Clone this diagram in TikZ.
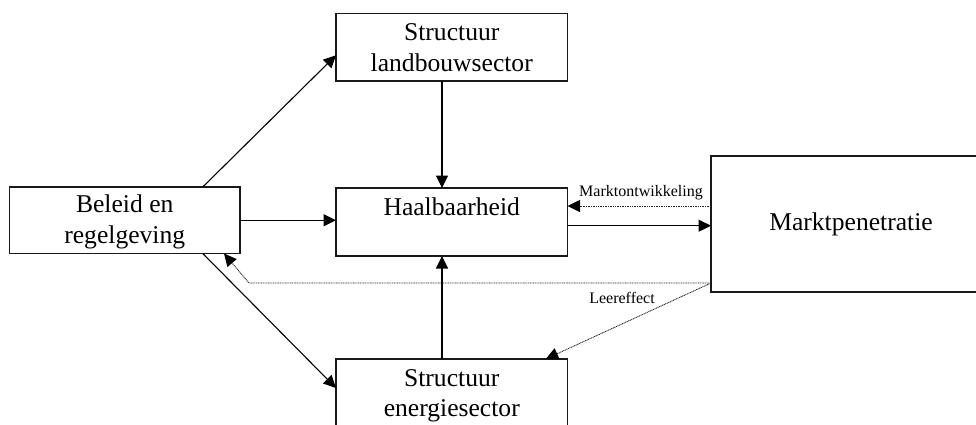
\documentclass[tikz,border=0pt]{standalone}
\usepackage{fontspec}
\setmainfont{Liberation Serif}
\usetikzlibrary{arrows.meta}
\begin{document}
\begin{tikzpicture}[x=1pt,y=-1pt,
  boxnode/.style={draw=black!90, line width=1.2pt, inner sep=0pt, outer sep=0pt},
  bigtext/.style={font=\fontsize{25.6pt}{30.5pt}\selectfont, align=center, inner sep=0pt},
  smalltext/.style={font=\fontsize{16pt}{19pt}\selectfont, inner sep=0pt},
  arr/.style={line width=1.1pt, -{Triangle[length=12.5pt,width=12pt]}},
  dotarr/.style={line width=0.9pt, draw=black!85, dash pattern=on 1pt off 0.7pt,
                 -{Triangle[length=12.5pt,width=12pt,color=black]}}]
\useasboundingbox (0,0) rectangle (976,424);
\clip (0,0) rectangle (976,424);

% boxes
\node[boxnode, minimum width=231.5pt, minimum height=67.5pt] (land) at (451.75,47.25) {};
\node[boxnode, minimum width=230.5pt, minimum height=66.5pt] (bel) at (124.75,220.25) {};
\node[boxnode, minimum width=231.5pt, minimum height=68pt] (haal) at (451.75,222) {};
\node[boxnode, minimum width=290pt, minimum height=136pt] (markt) at (856,224) {};
\node[boxnode, minimum width=231.5pt, minimum height=71pt] (en) at (451.75,394.5) {};

% texts
\node[bigtext] (landtxt) at (451.75,47.5) {Structuur\\landbouwsector};
\node[bigtext] (beltxt) at (124.75,222) {Beleid en\\regelgeving};
\node[bigtext, anchor=base] (haaltxt) at (451.75,215.5) {Haalbaarheid};
\node[bigtext] (markttxt) at (851,224) {Marktpenetratie};
\node[bigtext] (entxt) at (451.75,396) {Structuur\\energiesector};
\node[smalltext, anchor=base] (mo) at (641,196) {Marktontwikkeling};
\node[smalltext, anchor=base] (le) at (622,303) {Leereffect};

% solid arrows
\draw[arr] ([xshift=78pt]bel.north) -- ([yshift=-8pt]land.west);
\draw[arr] ([xshift=78pt]bel.south) -- ([yshift=6.5pt]en.west);
\draw[arr] (bel.east) -- (haal.west |- bel.east);
\draw[arr] ([xshift=-9.75pt]land.south) -- ([xshift=-9.75pt]haal.north);
\draw[arr] ([xshift=-9.75pt]en.north) -- ([xshift=-9.75pt]haal.south);
\draw[arr] ([yshift=-3.7pt]haal.east) -- ([yshift=-3.7pt]haal.east -| markt.west);

% dotted arrows
\coordinate (mtop) at ([yshift=18pt]markt.west);
\coordinate (mlow) at ([yshift=-59pt]markt.west);
\coordinate (bend) at (249,283);
\draw[dotarr] (mtop) -- (haal.east |- mtop);
\draw[dotarr] (mlow) -- (bend) -- ([xshift=99.25pt]bel.south);
\draw[dotarr] (mlow) -- ([xshift=94pt]en.north);
\end{tikzpicture}
\end{document}
